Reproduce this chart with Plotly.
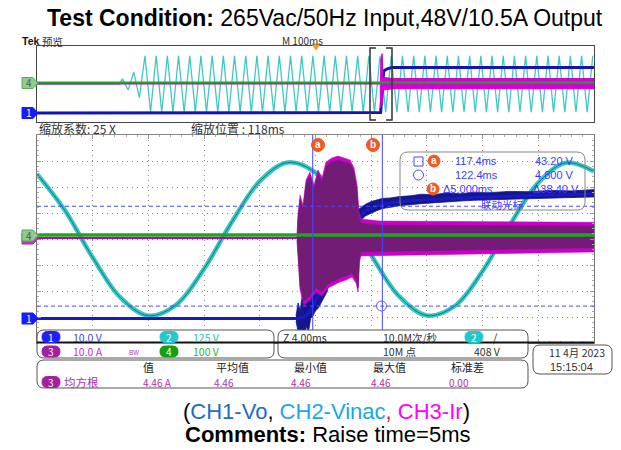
import plotly.graph_objects as go

FIG_W, FIG_H = 621, 450
SCOPE_FONT = "Noto Sans CJK SC, Noto Sans, sans-serif"
NUM_FONT = "Liberation Sans, Arial, sans-serif"
HEAD_FONT = "Arial, Liberation Sans, sans-serif"

# ------------------------------------------------------------------
# Record data, time in ms relative to the trigger point
# ------------------------------------------------------------------
# CH2 (Vin AC) samples inside the zoom window
vin_t_ms = [97.6, 99.6, 101.6, 103.6, 105.6, 107.6, 109.6, 111.6, 113.6, 115.6,
            117.6, 119.6, 121.6, 123.6, 125.6, 127.6, 129.6, 131.6, 133.6, 135.6, 137.6]
vin_v = [313, 138, -89, -282, -369, -316, -143, 83, 278, 368,
         319, 149, -77, -275, -368, -322, -154, 72, 271, 367, 325]

# CH2 half-cycle extremes over the whole record (overview)
vin_first_peak_ms = -346.4
vin_half_period_ms = 10.05
vin_half_cycle_peak_v = [
    70, 80, 160, 180, 372, 372, 372, 372, 372, 372,
    372, 372, 372, 372, 372, 372, 372, 372, 372, 372,
    372, 372, 372, 372, 372, 372, 372, 372, 372, 372,
    372, 372, 372, 372, 372, 372, 372, 372, 372, 372,
    372, 372, 372, 372, 372, 372, 372, 372, 372, 372,
    372, 372, 372, 372, 372, 372, 372, 372, 372, 372,
    372, 372, 372, 372, 372, 372, 372, 372, 372, 372,
    372, 372, 372, 372, 372, 372, 372, 372, 372, 372,
    372, 372, 372, 372, 372,
]

# CH1 (Vo) record, mean value
vo_t_ms = [-500, 116.3, 116.8, 117.1, 117.42, 118.0, 118.64, 119.3, 120.08, 120.56,
           121.2, 122.0, 122.4, 123.2, 124.4, 126.0, 128.0, 130.0, 133.0, 137.6, 160, 500]
vo_v = [0, 0, 0.6, 2.0, 4.8, 11.0, 18.7, 26.0, 34.0, 38.3,
        41.4, 43.4, 44.0, 44.6, 45.3, 45.9, 46.4, 46.8, 47.3, 47.9, 48.0, 48.0]

# CH1 noise envelope during start-up
vo_env_t_ms = [116.2, 116.35, 116.5, 116.65, 116.8, 116.95, 117.1, 117.25, 117.42, 117.6,
               117.8, 118.0, 118.2, 118.4, 118.64, 118.9, 119.1, 119.3, 119.6, 119.8,
               120.08, 120.3, 120.56, 120.9, 121.2, 121.6, 122.0, 122.4, 123.0, 123.6,
               124.4, 125.2, 126.0, 127.0, 128.0, 129.0, 130.0, 131.5, 133.0, 134.5,
               136.0, 137.6]
vo_env_hi_v = [1.0, 6, 3, 9, 4, 12, 7, 14, 10, 16,
               13, 18, 19, 22, 24, 27, 30, 31, 35, 36,
               38, 40, 41.5, 43, 44, 45, 45.6, 46.2, 46.4, 46.9,
               47.2, 47.8, 47.6, 48.3, 48.0, 48.6, 48.4, 48.9, 48.8, 49.3,
               49.1, 49.6]
vo_env_lo_v = [-1.0, -5, -6, -4, -7, -3, -5, 0, 1, 3,
               4, 6, 8, 10, 14, 17, 19, 21, 25, 28,
               31, 33, 36, 38, 39.5, 40.5, 41.5, 42.3, 42.8, 43.4,
               43.8, 44.2, 44.5, 44.9, 45.2, 45.5, 45.8, 46.0, 46.2, 46.4,
               46.6, 46.8]

# CH3 (Ir) resonant current envelope
ir_hi_t_ms = [116.27, 116.34, 116.49, 116.7, 116.92, 117.2, 117.49, 117.78, 118.07, 118.35,
              118.78, 119.22, 119.65, 120.08, 120.37, 120.58, 120.72, 120.87, 122.23, 127.26,
              137.6, 500]
ir_hi_a = [0.8, 8.8, 16.5, 12.7, 22.3, 25.4, 20.4, 26.2, 23.0, 29.2,
           30.8, 31.5, 30.8, 30.0, 26.9, 20.4, 10.0, 7.3, 6.5, 6.2,
           5.4, 5.4]
ir_lo_t_ms = [116.27, 116.34, 116.49, 116.77, 117.2, 117.64, 118.07, 118.5, 118.93, 119.36,
              119.79, 120.22, 120.51, 120.66, 120.76, 120.87, 122.23, 127.26, 137.6, 500]
ir_lo_a = [-0.8, -9.2, -20, -25.8, -23.8, -20.8, -22.3, -19.2, -18.1, -16.9,
           -16.2, -15, -17.3, -20.8, -9.2, -6.9, -6.9, -6.5, -5.4, -5.4]
ir_idle_t_ms = [-500, 116.27]
ir_idle_a = [0, 0]

# CH4 record
ch4_t_ms = [-500, 500]
ch4_v = [0, 0]

# Cursors
cursor_a_ms, cursor_b_ms = 117.4, 122.4
cursor_hi_v, cursor_lo_v = 43.20, 4.800

# Channel settings: units/div and zero position (div above centre)
ch_scale = {"CH1": 10, "CH2": 125, "CH3": 10, "CH4": 100}
ch_pos = {"CH1": -3.06, "CH2": 0.0, "CH3": 0.04, "CH4": 0.15}

zoom_range_ms = [97.6, 137.6]
record_range_ms = [-500, 500]


def ch_range(ch):
    return [(-4 - ch_pos[ch]) * ch_scale[ch], (4 - ch_pos[ch]) * ch_scale[ch]]


# ------------------------------------------------------------------
# pixel helpers for the screen furniture
# ------------------------------------------------------------------
def X(p):
    return p / FIG_W


def Y(p):
    return 1 - p / FIG_H


def rrect_path(x0, y0, x1, y1, r):
    return (f"M {X(x0 + r)},{Y(y0)} L {X(x1 - r)},{Y(y0)} Q {X(x1)},{Y(y0)} {X(x1)},{Y(y0 + r)} "
            f"L {X(x1)},{Y(y1 - r)} Q {X(x1)},{Y(y1)} {X(x1 - r)},{Y(y1)} "
            f"L {X(x0 + r)},{Y(y1)} Q {X(x0)},{Y(y1)} {X(x0)},{Y(y1 - r)} "
            f"L {X(x0)},{Y(y0 + r)} Q {X(x0)},{Y(y0)} {X(x0 + r)},{Y(y0)} Z")


shapes = []
annotations = []


def text(x, y, s, size=11, color="#333", anchor="left", family=SCOPE_FONT):
    annotations.append(dict(x=X(x), y=Y(y), xref="paper", yref="paper", text=s,
                            showarrow=False, xanchor=anchor, yanchor="middle", borderpad=0,
                            font=dict(size=size, color=color, family=family)))


def rbox(x0, y0, x1, y1, r=7, line="#555", fill="white"):
    shapes.append(dict(type="path", path=rrect_path(x0, y0, x1, y1, r), xref="paper", yref="paper",
                       line=dict(color=line, width=1), fillcolor=fill, layer="above"))


def pill(cx, cy, label, fill, txt="white", w=18, h=11):
    shapes.append(dict(type="path", path=rrect_path(cx - w / 2, cy - h / 2, cx + w / 2, cy + h / 2, h / 2),
                       xref="paper", yref="paper", line=dict(color=fill, width=1), fillcolor=fill, layer="above"))
    text(cx, cy, label, size=10, color=txt, anchor="center")


def disc(cx, cy, r, label, fill="#f05a24"):
    shapes.append(dict(type="circle", xref="paper", yref="paper", x0=X(cx - r), x1=X(cx + r),
                       y0=Y(cy + r), y1=Y(cy - r), fillcolor=fill, line=dict(color=fill, width=1), layer="above"))
    text(cx, cy - 0.5, f"<b>{label}</b>", size=10, color="white", anchor="center", family=NUM_FONT)


def marker(cy, label, fill, border, txt, x0=22, x1=33, tip=38, h=11):
    p = (f"M {X(x0)},{Y(cy - h / 2)} L {X(x1)},{Y(cy - h / 2)} L {X(tip)},{Y(cy)} "
         f"L {X(x1)},{Y(cy + h / 2)} L {X(x0)},{Y(cy + h / 2)} Z")
    shapes.append(dict(type="path", path=p, xref="paper", yref="paper", fillcolor=fill,
                       line=dict(color=border, width=1), layer="above"))
    if label:
        text((x0 + x1) / 2 + 1, cy, label, size=10, color=txt, anchor="center")


# ------------------------------------------------------------------
# traces
# ------------------------------------------------------------------
fig = go.Figure()
main_ax = {"CH2": "y", "CH1": "y2", "CH3": "y3", "CH4": "y4"}
ovw_ax = {"CH2": "y5", "CH1": "y6", "CH3": "y7", "CH4": "y8"}


def band(t_hi, hi, t_lo, lo):
    return t_hi + t_lo[::-1], hi + lo[::-1]


# --- zoom window ---
fig.add_trace(go.Scatter(x=vin_t_ms, y=vin_v, xaxis="x", yaxis=main_ax["CH2"], mode="lines",
                         line=dict(color="#35c6c6", width=4.5, shape="spline")))
fig.add_trace(go.Scatter(x=vin_t_ms, y=vin_v, xaxis="x", yaxis=main_ax["CH2"], mode="lines",
                         line=dict(color="#157a7a", width=1, shape="spline")))
fig.add_trace(go.Scatter(x=ir_idle_t_ms, y=ir_idle_a, xaxis="x", yaxis=main_ax["CH3"], mode="lines",
                         line=dict(color="#c000c0", width=2)))
bx, by = band(ir_hi_t_ms, ir_hi_a, ir_lo_t_ms, ir_lo_a)
fig.add_trace(go.Scatter(x=bx, y=by, xaxis="x", yaxis=main_ax["CH3"], mode="lines", fill="toself",
                         fillcolor="#c800c8", line=dict(color="#c800c8", width=0.5)))
inner_hi = [max(v - 1.6, 0) for v in ir_hi_a]
inner_lo = [min(v + 1.6, 0) for v in ir_lo_a]
bx, by = band(ir_hi_t_ms, inner_hi, ir_lo_t_ms, inner_lo)
fig.add_trace(go.Scatter(x=bx, y=by, xaxis="x", yaxis=main_ax["CH3"], mode="lines", fill="toself",
                         fillcolor="#731c75", line=dict(color="#731c75", width=0.5)))
fig.add_trace(go.Scatter(x=ch4_t_ms, y=ch4_v, xaxis="x", yaxis=main_ax["CH4"], mode="lines",
                         line=dict(color="#1fa51f", width=3.5)))
bx, by = band(vo_env_t_ms, vo_env_hi_v, vo_env_t_ms, vo_env_lo_v)
fig.add_trace(go.Scatter(x=bx, y=by, xaxis="x", yaxis=main_ax["CH1"], mode="lines", fill="toself",
                         fillcolor="#15158e", line=dict(color="#15158e", width=0.8)))
fig.add_trace(go.Scatter(x=vo_t_ms, y=vo_v, xaxis="x", yaxis=main_ax["CH1"], mode="lines",
                         line=dict(color="#1a1ac0", width=3)))

# --- overview record ---
ovw_vin_t = [-500, -352] + [vin_first_peak_ms + k * vin_half_period_ms
                            for k in range(len(vin_half_cycle_peak_v))]
ovw_vin_v = [0, 0] + [p if k % 2 == 0 else -p for k, p in enumerate(vin_half_cycle_peak_v)]
fig.add_trace(go.Scatter(x=ovw_vin_t, y=ovw_vin_v, xaxis="x2", yaxis=ovw_ax["CH2"], mode="lines",
                         line=dict(color="#40c8c8", width=1.3)))
fig.add_trace(go.Scatter(x=ir_idle_t_ms, y=ir_idle_a, xaxis="x2", yaxis=ovw_ax["CH3"], mode="lines",
                         line=dict(color="#c000c0", width=2)))
bx, by = band(ir_hi_t_ms, ir_hi_a, ir_lo_t_ms, ir_lo_a)
fig.add_trace(go.Scatter(x=bx, y=by, xaxis="x2", yaxis=ovw_ax["CH3"], mode="lines", fill="toself",
                         fillcolor="#d400d4", line=dict(color="#d400d4", width=1)))
fig.add_trace(go.Scatter(x=ch4_t_ms, y=ch4_v, xaxis="x2", yaxis=ovw_ax["CH4"], mode="lines",
                         line=dict(color="#1fa51f", width=2)))
fig.add_trace(go.Scatter(x=vo_t_ms, y=vo_v, xaxis="x2", yaxis=ovw_ax["CH1"], mode="lines",
                         line=dict(color="#1414b4", width=3)))

# ------------------------------------------------------------------
# axes
# ------------------------------------------------------------------
MAIN_X = [X(37), X(594)]
MAIN_Y = [Y(343), Y(135)]
OVW_Y = [Y(122), Y(46)]
grid = dict(showgrid=True, gridcolor="#8c8c8c", griddash="1px,4px", gridwidth=1)

layout_axes = dict(
    xaxis=dict(domain=MAIN_X, range=zoom_range_ms, anchor="y", tick0=zoom_range_ms[0], dtick=4,
               showticklabels=False, ticks="inside", ticklen=4, tickcolor="#999",
               showline=True, linecolor="#888", mirror="ticks", zeroline=False,
               minor=dict(ticks="inside", ticklen=2, dtick=0.8, tick0=zoom_range_ms[0],
                          tickcolor="#aaa", showgrid=False), **grid),
    yaxis=dict(domain=MAIN_Y, range=ch_range("CH2"), anchor="x", tick0=0, dtick=ch_scale["CH2"],
               showticklabels=False, ticks="inside", ticklen=4, tickcolor="#999",
               showline=True, linecolor="#777", mirror="ticks", zeroline=False,
               minor=dict(ticks="inside", ticklen=2, dtick=ch_scale["CH2"] / 5, tickcolor="#aaa",
                          showgrid=False), **grid),
    xaxis2=dict(domain=MAIN_X, range=record_range_ms, anchor="y5", showticklabels=False,
                showgrid=False, zeroline=False, showline=True, linecolor="#444", mirror=True, ticks=""),
    yaxis5=dict(domain=OVW_Y, range=ch_range("CH2"), anchor="x2", showticklabels=False,
                showgrid=False, zeroline=False, showline=True, linecolor="#444", mirror=True, ticks=""),
)
for ch, ax in main_ax.items():
    if ax != "y":
        layout_axes["yaxis" + ax[1:]] = dict(domain=MAIN_Y, range=ch_range(ch), overlaying="y",
                                             anchor="x", visible=False)
for ch, ax in ovw_ax.items():
    if ax != "y5":
        layout_axes["yaxis" + ax[1:]] = dict(domain=OVW_Y, range=ch_range(ch), overlaying="y5",
                                             anchor="x2", visible=False)

# ------------------------------------------------------------------
# cursors
# ------------------------------------------------------------------
for t in (cursor_a_ms, cursor_b_ms):
    shapes.append(dict(type="line", xref="x", yref="paper", x0=t, x1=t, y0=Y(343), y1=Y(135),
                       line=dict(color="#4646ff", width=1), layer="above"))
for v in (cursor_hi_v, cursor_lo_v):
    shapes.append(dict(type="line", xref="paper", yref="y2", x0=X(37), x1=X(594), y0=v, y1=v,
                       line=dict(color="#4a4aff", width=1, dash="4px,3px"), layer="above"))
shapes.append(dict(type="circle", xref="paper", yref="paper", x0=X(376.5), x1=X(386.5),
                   y0=Y(311), y1=Y(301), line=dict(color="#5a5aff", width=1), layer="above"))
disc(318, 145, 6.5, "a")
disc(373, 145, 6.5, "b")

# cursor readout box
rbox(400, 152, 585, 210, r=8, line="#888", fill="rgba(0,0,0,0)")
shapes.append(dict(type="rect", xref="paper", yref="paper", x0=X(414), x1=X(423), y0=Y(166), y1=Y(157),
                   line=dict(color="#4a4aff", width=1), layer="above"))
shapes.append(dict(type="circle", xref="paper", yref="paper", x0=X(413.5), x1=X(423.5), y0=Y(180),
                   y1=Y(170), line=dict(color="#4a4aff", width=1), layer="above"))
disc(434, 161, 6, "a")
disc(433, 189, 6, "b")
CUR = "#3c3cff"
text(454, 161.5, f"{cursor_a_ms:.1f}ms", 11, CUR, family=NUM_FONT)
text(534, 161.5, f"{cursor_hi_v:.2f} V", 11, CUR, family=NUM_FONT)
text(454, 175, f"{cursor_b_ms:.1f}ms", 11, CUR, family=NUM_FONT)
text(534, 175, f"{cursor_lo_v:.3f} V", 11, CUR, family=NUM_FONT)
text(442, 189, f"Δ{cursor_b_ms - cursor_a_ms:.3f}ms", 11, CUR, family=NUM_FONT)
text(532, 189, f"Δ{cursor_hi_v - cursor_lo_v:.2f} V", 11, CUR, family=NUM_FONT)
text(502, 204.5, "联动光标", 10.5, CUR, anchor="center")

# ------------------------------------------------------------------
# overview furniture
# ------------------------------------------------------------------
for xb, d in ((370, 1), (392, -1)):
    p = (f"M {X(xb + 6 * d)},{Y(48)} L {X(xb)},{Y(48)} L {X(xb)},{Y(120)} L {X(xb + 6 * d)},{Y(120)}")
    shapes.append(dict(type="path", path=p, xref="paper", yref="paper",
                       line=dict(color="#333", width=1.5), layer="above"))
shapes.append(dict(type="path", path=f"M {X(312)},{Y(44)} L {X(320)},{Y(44)} L {X(316)},{Y(50)} Z",
                   xref="paper", yref="paper", fillcolor="#f0a030", line=dict(color="#f0a030", width=1),
                   layer="above"))
text(302, 40, "M 100ms", 10, "#333", anchor="center")
text(21, 41, "<b>Tek</b>", 10.5, "#111", family=HEAD_FONT)
text(41, 41, "预览", 10.5, "#333")
text(38, 129, "缩放系数: 25 X", 12, "#333")
text(190, 129, "缩放位置 : 118ms", 12, "#333")

# channel markers at the left edge
marker(238.5, "", "#c040c0", "#a020a0", "white")
marker(235.5, "4", "#8ccc8c", "#5aa85a", "#555")
marker(318.5, "1", "#1a1aff", "#1a1aff", "white")
marker(83, "4", "#8ccc8c", "#5aa85a", "#555")
marker(113, "1", "#1a1aff", "#1a1aff", "white")

# ------------------------------------------------------------------
# status area
# ------------------------------------------------------------------
rbox(37, 330, 274, 358)
rbox(278, 330, 528, 358)
rbox(533, 345, 612, 374)
rbox(37, 360, 528, 388)
shapes.append(dict(type="line", xref="paper", yref="paper", x0=X(37), x1=X(594), y0=Y(342.5), y1=Y(342.5),
                   line=dict(color="#111", width=2), layer="above"))

pill(51, 337, "1", "#2020ff")
text(72, 337, "10.0 V", 10.5, "#4040ff")
pill(169, 337, "2", "#22c8d0")
text(192, 337, "125 V", 10.5, "#22c0c8")
pill(51, 351.5, "3", "#a020a0")
text(72, 351.5, "10.0 A", 10.5, "#c030c0")
text(128, 352, "BW", 6.5, "#c030c0")
pill(169, 351.5, "4", "#10a010")
text(192, 351.5, "100 V", 10.5, "#30b030")

text(282, 337, "Z 4.00ms", 10.5, "#333")
text(382, 337, "10.0M次/秒", 10.5, "#333")
pill(474, 337, "2", "#22c8d0")
text(492, 337, "/", 11, "#333")
text(382, 351.5, "10M 点", 10.5, "#333")
text(473, 351.5, "408 V", 10.5, "#333")

text(548, 352.5, "11 4月 2023", 10.5, "#333")
text(549, 367, "15:15:04", 11, "#333", family=NUM_FONT)

for cx, s in ((148, "值"), (232, "平均值"), (310, "最小值"), (389, "最大值"), (467, "标准差")):
    text(cx, 366.5, s, 11, "#222", anchor="center")
pill(51, 382, "3", "#a020a0")
text(63, 382, "均方根", 11.5, "#b030b0")
for x0, s in ((142, "4.46 A"), (213, "4.46"), (290, "4.46"), (370, "4.46"), (448, "0.00")):
    text(x0, 382.5, s, 10, "#b030b0")

# ------------------------------------------------------------------
# headings
# ------------------------------------------------------------------
text(325, 18, "<b>Test Condition:</b> 265Vac/50Hz Input,48V/10.5A Output", 23, "#000",
     anchor="center", family=HEAD_FONT)
text(326, 411, ("(<span style='color:#1f6cc4'>CH1-Vo</span>, "
                "<span style='color:#1aa7e8'>CH2-Vinac</span><span style='color:#e02020'>,</span> "
                "<span style='color:#ff00ff'>CH3-Ir</span>)"), 22, "#000", anchor="center", family=HEAD_FONT)
text(327, 434, "<b>Comments:</b> Raise time=5ms", 22, "#000", anchor="center", family=HEAD_FONT)

fig.update_layout(width=FIG_W, height=FIG_H, margin=dict(l=0, r=0, t=0, b=0),
                  paper_bgcolor="white", plot_bgcolor="white", showlegend=False,
                  shapes=shapes, annotations=annotations, **layout_axes)

fig.write_html("out.html")
